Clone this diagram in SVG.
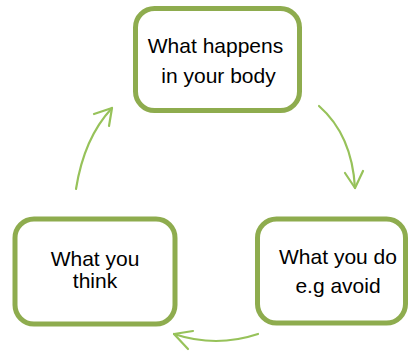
<svg xmlns="http://www.w3.org/2000/svg" width="410" height="352" viewBox="0 0 410 352">
<style>
.box{fill:#fff;stroke:#8EAC4E;stroke-width:5}
.lbl{font-family:"Liberation Sans",Arial,sans-serif;font-size:21px;fill:#000;text-anchor:middle}
.arr{fill:none;stroke:#97C25A;stroke-width:2.2;stroke-linecap:round;stroke-linejoin:round}
</style>
<rect width="410" height="352" fill="#fff"/>
<g id="connectors">
<path class="arr" d="M76,189 Q84,138 112,108"/>
<polyline class="arr" points="94,114 112,108 109,126"/>
<path class="arr" d="M319,106 Q352,135 355,188"/>
<polyline class="arr" points="345,173 355,188 363,171"/>
<path class="arr" d="M258,334 Q216,348 174,334"/>
<polyline class="arr" points="193,331 174,334 188,349"/>
</g>
<g id="node-body">
<rect class="box" x="135.5" y="8.5" width="164" height="102" rx="19"/>
<text class="lbl" x="215.5" y="53">What happens</text>
<text class="lbl" x="218.5" y="83">in your body</text>
</g>
<g id="node-think">
<rect class="box" x="15" y="219" width="160" height="105" rx="19"/>
<text class="lbl" x="95" y="266">What you</text>
<text class="lbl" x="95" y="288">think</text>
</g>
<g id="node-do">
<rect class="box" x="257.5" y="219" width="148" height="104" rx="19"/>
<text class="lbl" x="338" y="264">What you do</text>
<text class="lbl" x="338" y="293">e.g avoid</text>
</g>
</svg>
